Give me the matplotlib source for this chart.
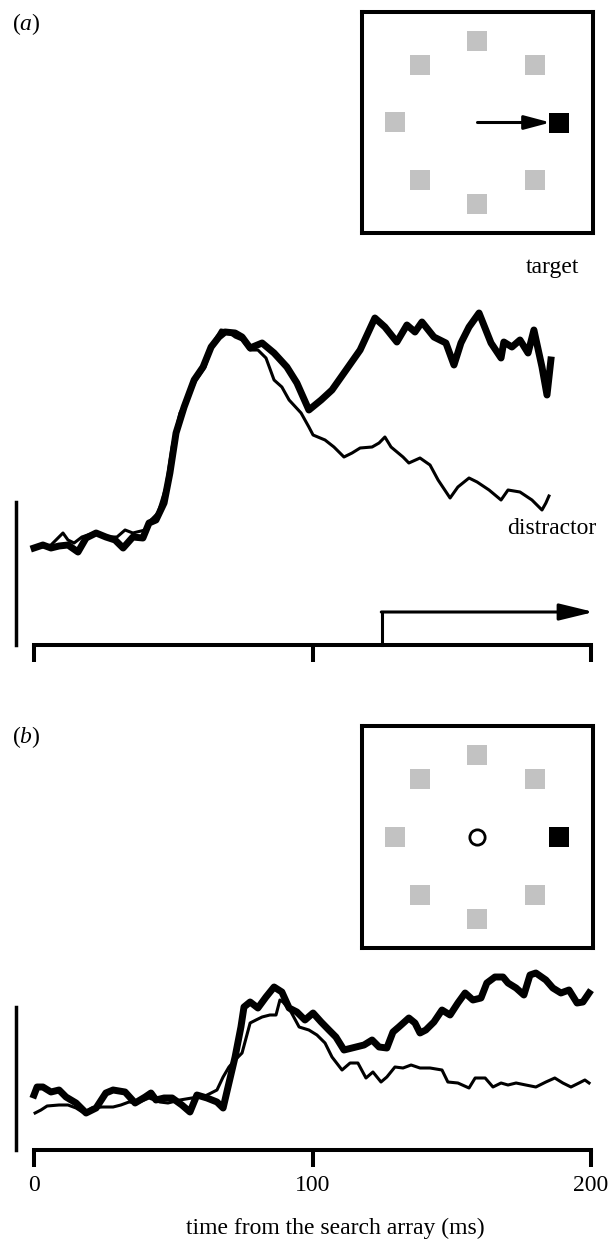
import matplotlib
matplotlib.use('Agg')
import numpy as np
import matplotlib.pyplot as plt

plt.rcParams['font.family'] = ['Liberation Serif', 'DejaVu Serif']
plt.rcParams['mathtext.fontset'] = 'custom'
plt.rcParams['mathtext.it'] = 'Liberation Serif:italic'
plt.rcParams['mathtext.rm'] = 'Liberation Serif'

# ---- data (time in ms, activity in arbitrary units) ----
# panel (a): target in receptive field, saccade to it
a_target_t = [0, 3.2, 6.1, 9.0, 12.2, 15.8, 18.7, 22.3, 25.8, 29.1, 32.0, 35.5, 39.1, 41.3,
              43.8, 46.7, 48.8, 51.0, 53.9, 57.5, 60.7, 63.6, 66.4, 68.6, 72.2, 74.7, 77.6,
              81.9, 86.2, 90.8, 94.4, 98.7, 103.1, 107.0, 111.3, 117.1, 122.4, 126.0, 130.3,
              133.9, 136.8, 139.3, 143.6, 147.9, 150.8, 153.3, 156.2, 159.8, 164.1, 167.7,
              168.7, 171.6, 174.5, 177.4, 179.5, 182.4, 184.2, 185.6]
a_target_v = [97, 100, 97, 99, 100, 93, 107, 112, 108, 105, 97, 108, 107, 122,
              125, 142, 172, 212, 238, 265, 278, 298, 308, 313, 312, 308, 297,
              302, 292, 278, 262, 235, 245, 255, 272, 295, 327, 318, 303,
              320, 313, 323, 308, 302, 280, 302, 318, 332, 302, 287,
              303, 298, 305, 292, 315, 278, 250, 285]

a_distr_t = [0, 3.2, 6.1, 10.4, 12.2, 14.4, 17.2, 21.5, 27.3, 29.8, 32.7, 35.5, 39.9, 42.0,
             44.5, 47.4, 49.6, 52.4, 55.3, 58.2, 61.4, 64.3, 67.1, 69.3, 72.2, 74.7, 77.6,
             80.4, 83.3, 86.2, 89.0, 91.6, 95.9, 98.7, 100.2, 104.5, 107.7, 111.3, 114.2,
             117.1, 121.4, 123.9, 126.0, 128.2, 132.5, 134.6, 138.6, 142.2, 145.1, 149.4,
             152.2, 156.2, 159.1, 163.4, 167.7, 170.2, 174.5, 178.8, 182.4, 183.8, 184.9]
a_distr_v = [97, 98, 100, 112, 105, 102, 108, 112, 108, 108, 115, 112, 115, 125,
             132, 158, 198, 232, 248, 265, 278, 302, 315, 314, 308, 305, 295,
             295, 287, 265, 258, 245, 232, 218, 210, 205, 198, 188, 192,
             197, 198, 202, 208, 198, 188, 182, 187, 180, 165, 147,
             158, 167, 163, 155, 145, 155, 153, 145, 135, 142, 149]

# panel (b): target in receptive field, fixation maintained
b_target_t = [0, 1.1, 3.2, 6.1, 9.0, 11.5, 15.1, 18.7, 22.3, 25.8, 28.4, 32.7, 36.3, 39.9,
              42.0, 43.8, 46.7, 49.6, 53.1, 56.0, 58.5, 62.1, 65.7, 67.9, 70.0, 72.2, 74.3,
              75.4, 77.6, 80.4, 83.3, 86.2, 89.0, 91.6, 94.4, 97.3, 100.2, 103.1, 105.9,
              108.4, 111.3, 114.2, 118.5, 121.4, 123.9, 126.7, 128.9, 131.0, 134.6, 136.8,
              138.6, 140.7, 143.6, 146.5, 149.4, 152.2, 154.8, 157.6, 160.5, 162.6, 165.5,
              168.4, 170.2, 173.1, 175.9, 178.1, 180.2, 183.8, 186.3, 189.2, 192.1, 195.0,
              197.1, 199.3]
b_target_v = [55, 63, 63, 58, 60, 53, 47, 37, 42, 57, 60, 58, 47, 53,
              57, 50, 52, 52, 45, 38, 55, 52, 48, 42, 67, 93, 123,
              143, 148, 142, 153, 163, 158, 142, 138, 130, 137, 128, 120,
              113, 100, 102, 105, 110, 103, 102, 118, 123, 132, 127,
              117, 120, 128, 140, 135, 147, 157, 150, 152, 167, 173,
              173, 167, 162, 155, 175, 177, 170, 162, 157, 160, 147,
              148, 157]

b_distr_t = [0.4, 2.5, 4.7, 9.0, 12.2, 15.1, 17.9, 20.8, 24.4, 28.4, 31.2, 34.1, 37.0, 41.3,
             45.2, 48.1, 52.4, 56.7, 60.7, 63.6, 65.7, 67.9, 70.0, 72.2, 74.7, 77.6, 79.7,
             81.9, 84.7, 86.9, 88.3, 89.4, 92.3, 95.2, 98.7, 101.6, 104.5, 107.0, 110.6,
             113.5, 116.3, 119.2, 121.7, 124.6, 126.7, 129.6, 132.5, 135.4, 138.6, 142.2,
             146.5, 148.6, 152.2, 156.2, 158.4, 162.0, 164.8, 167.7, 170.2, 173.1, 176.6,
             180.2, 183.8, 187.0, 189.9, 192.8, 195.7, 197.8, 199.3]
b_distr_v = [37, 40, 44, 45, 45, 42, 37, 42, 43, 43, 45, 48, 47, 52,
             48, 47, 50, 52, 53, 57, 60, 73, 83, 90, 97, 127, 130,
             133, 135, 135, 150, 148, 138, 123, 120, 115, 107, 93, 80,
             87, 87, 72, 78, 68, 73, 83, 82, 85, 82, 82,
             80, 68, 67, 62, 72, 72, 63, 67, 65, 67, 65,
             63, 68, 72, 67, 63, 67, 70, 67]

x_ticks = [0, 100, 200]
x_ticklabels = ['0', '100', '200']
scale_bar = 143          # height of the vertical calibration bar
saccade_onset = 125      # ms, start of the arrow in panel (a)

# search display: angles (deg) of the eight items, target on the right
item_angles = [90, 135, 45, 180, 225, 315, 270]
target_angle = 0
item_radius = 82

W, H = 610, 1247
fig = plt.figure(figsize=(W / 100, H / 100), dpi=100)


def px_rect(x0, y0, x1, y1):
    return [x0 / W, 1 - y1 / H, (x1 - x0) / W, (y1 - y0) / H]


def style_trace_axes(ax, ytop, labels):
    ax.set_xlim(0, 200)
    ax.set_ylim(0, ytop)
    ax.patch.set_alpha(0)
    ax.spines['top'].set_visible(False)
    ax.spines['right'].set_visible(False)
    ax.spines['bottom'].set_linewidth(2.9)
    ax.spines['left'].set_linewidth(2.5)
    ax.spines['left'].set_bounds(0, scale_bar)
    ax.spines['left'].set_position(('outward', 13))
    ax.set_yticks([])
    ax.set_xticks(x_ticks)
    ax.tick_params(axis='x', direction='out', length=12, width=2.9, labelsize=17, pad=6)
    if labels:
        ax.set_xticklabels(x_ticklabels)
    else:
        ax.set_xticklabels([])


def draw_display(rect, fixation_spot):
    ax = fig.add_axes(rect)
    ax.set_xlim(-115.5, 115.5)
    ax.set_ylim(-111, 111)
    ax.set_xticks([])
    ax.set_yticks([])
    for s in ax.spines.values():
        s.set_linewidth(2.9)
    ang = np.radians(item_angles)
    ax.plot(item_radius * np.cos(ang), item_radius * np.sin(ang), 's',
            ms=14.4, color='#c2c2c2', mew=0)
    ta = np.radians(target_angle)
    tx, ty = item_radius * np.cos(ta), item_radius * np.sin(ta)
    ax.plot([tx], [ty], 's', ms=14.4, color='black', mew=0)
    if fixation_spot:
        ax.plot([0], [0], 'o', ms=11, mfc='white', mec='black', mew=2)
    return ax, tx, ty


# ---- panel (a) ----
ax_a = fig.add_axes(px_rect(34, 250, 591, 645))
style_trace_axes(ax_a, 395, False)
ax_a.plot(a_distr_t, a_distr_v, color='black', lw=2.2, clip_on=False)
ax_a.plot(a_target_t, a_target_v, color='black', lw=5, clip_on=False, solid_joinstyle='round')
ax_a.plot([saccade_onset, saccade_onset], [0, 33], color='black', lw=2.2, clip_on=False)
ax_a.annotate('', xy=(201, 33), xytext=(saccade_onset - 0.3, 33), annotation_clip=False,
              arrowprops=dict(arrowstyle='-|>,head_length=0.7,head_width=0.17',
                              mutation_scale=30, lw=2.2, color='black',
                              shrinkA=0, shrinkB=0))
ax_a.text(186, 377, 'target', fontsize=17, ha='center', va='center')
ax_a.text(186, 117, 'distractor', fontsize=17, ha='center', va='center')

disp_a, tx, ty = draw_display(px_rect(362, 12, 593, 233), False)
disp_a.annotate('', xy=(tx - 9, ty), xytext=(0, ty),
                arrowprops=dict(arrowstyle='-|>,head_length=0.75,head_width=0.2',
                                mutation_scale=21, lw=2.2, color='black',
                                shrinkA=0, shrinkB=0))

fig.text(12 / W, 1 - 24 / H, r'($\mathit{a}$)', fontsize=17, ha='left', va='center')

# ---- panel (b) ----
ax_b = fig.add_axes(px_rect(34, 960, 591, 1150))
style_trace_axes(ax_b, 190, True)
ax_b.plot(b_distr_t, b_distr_v, color='black', lw=2.2, clip_on=False)
ax_b.plot(b_target_t, b_target_v, color='black', lw=5, clip_on=False, solid_joinstyle='round')
ax_b.set_xlabel('time from the search array (ms)', fontsize=17)
ax_b.xaxis.set_label_coords((335 - 34) / 557, -(1218 - 1150) / 190)

draw_display(px_rect(362, 726, 593, 948), True)

fig.text(12 / W, 1 - 737 / H, r'($\mathit{b}$)', fontsize=17, ha='left', va='center')

fig.savefig('out.png', dpi=100)
